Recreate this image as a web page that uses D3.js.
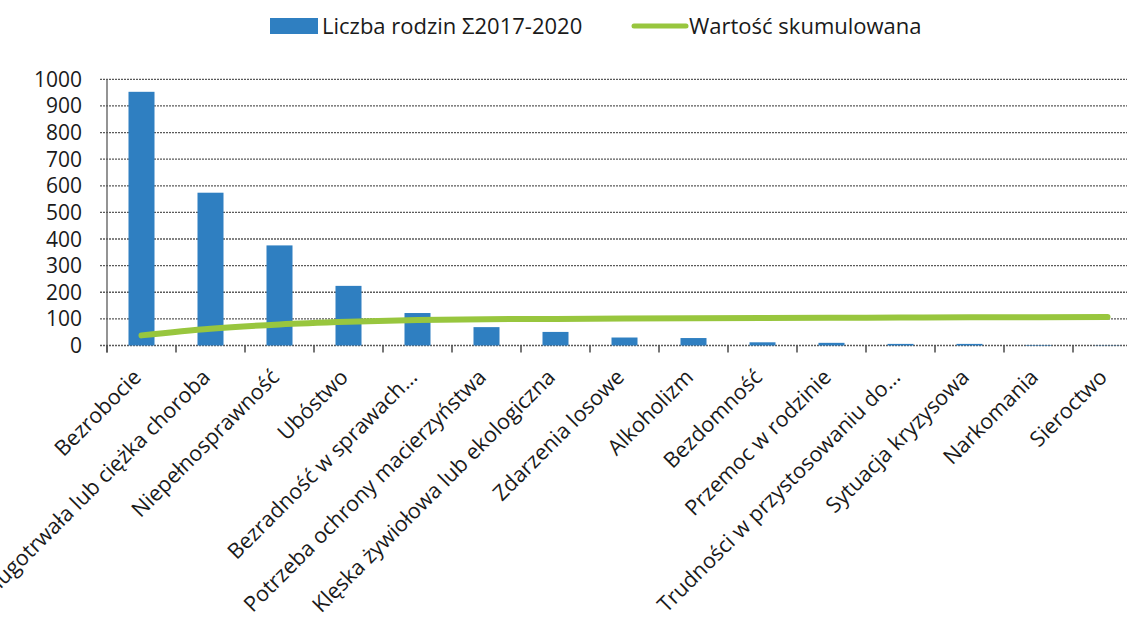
<!DOCTYPE html>
<html><head><meta charset="utf-8">
<script src="https://cdn.jsdelivr.net/npm/d3@7"></script>
<style>body{margin:0;background:#fff}svg{display:block}text{font-family:"Open Sans",sans-serif;fill:#1a1a1a}</style>
</head><body>
<svg id="c" width="1127" height="624"></svg>
<script>
const categories = ["Bezrobocie","Długotrwała lub ciężka choroba","Niepełnosprawność","Ubóstwo","Bezradność w sprawach…","Potrzeba ochrony macierzyństwa","Klęska żywiołowa lub ekologiczna","Zdarzenia losowe","Alkoholizm","Bezdomność","Przemoc w rodzinie","Trudności w przystosowaniu do…","Sytuacja kryzysowa","Narkomania","Sieroctwo"];
const families = [953, 574, 376, 224, 122, 69, 51, 30, 28, 12, 10, 6, 6, 2, 1];
const cumulative = [38, 63, 79, 89, 96, 99, 100, 101, 102, 103, 104, 105, 106, 106, 107];
const yTicks = [0,100,200,300,400,500,600,700,800,900,1000];
const seriesNames = ["Liczba rodzin Σ2017-2020","Wartość skumulowana"];

const svg = d3.select("#c");
const pLeft = 107, pTop = 79.3, pBottom = 345.5, step = 69;
const x = d3.scaleBand().domain(categories).range([pLeft, pLeft + step*categories.length]).padding(0);
const y = d3.scaleLinear().domain([0,1000]).range([pBottom, pTop]);
const blue = "#2f7fc1", green = "#98c63e";

// gridlines
svg.append("g").selectAll("line").data(yTicks).join("line")
  .attr("x1", pLeft-7).attr("x2", 1127).attr("y1", d=>y(d)).attr("y2", d=>y(d))
  .attr("stroke","#5a5a5a").attr("stroke-width",1.3).attr("stroke-dasharray","2,1");
// y labels
svg.append("g").selectAll("text").data(yTicks).join("text")
  .attr("x", 82).attr("y", d=>y(d)).attr("dy","0.36em").attr("text-anchor","end")
  .attr("font-size",21).text(d=>d);
// y axis line
svg.append("line").attr("x1",pLeft).attr("x2",pLeft).attr("y1",pTop).attr("y2",pBottom+7)
  .attr("stroke","#5a5a5a").attr("stroke-width",1.3);
// x ticks
const edges = categories.map(c=>x(c)).concat([x(categories[categories.length-1])+step]);
svg.append("g").selectAll("line").data(edges).join("line")
  .attr("x1",d=>d).attr("x2",d=>d).attr("y1",pBottom).attr("y2",pBottom+7)
  .attr("stroke","#4a4a4a").attr("stroke-width",1.5);

// bars
const bw = 26;
svg.append("g").selectAll("rect").data(categories).join("rect")
  .attr("x", c=>x(c)+step/2-bw/2).attr("width", bw)
  .attr("y", (c,i)=>y(families[i])).attr("height",(c,i)=>pBottom-y(families[i]))
  .attr("fill", blue);

// line
const line = d3.line().x((d,i)=>x(categories[i])+step/2).y(d=>y(d)).curve(d3.curveMonotoneX);
svg.append("path").datum(cumulative).attr("d", line).attr("fill","none")
  .attr("stroke", green).attr("stroke-width",6).attr("stroke-linecap","round");

// x labels
svg.append("g").selectAll("text").data(categories).join("text")
  .attr("transform", c=>`translate(${x(c)+step/2+1},${pBottom+33}) rotate(-45)`)
  .attr("text-anchor","end").attr("font-size",21.5).text(c=>c);

// legend
const lg = svg.append("g");
lg.append("rect").attr("x",270).attr("y",18).attr("width",48).attr("height",16).attr("fill",blue);
lg.append("text").attr("x",322).attr("y",26).attr("dy","0.36em").attr("font-size",22).text(seriesNames[0]);
lg.append("line").attr("x1",634).attr("x2",686).attr("y1",26).attr("y2",26).attr("stroke",green).attr("stroke-width",5).attr("stroke-linecap","round");
lg.append("text").attr("x",689).attr("y",26).attr("dy","0.36em").attr("font-size",22).text(seriesNames[1]);
</script>
</body></html>
